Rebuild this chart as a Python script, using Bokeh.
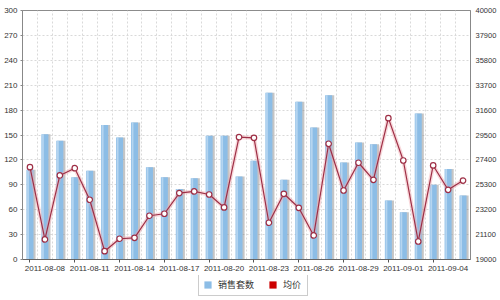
from bokeh.plotting import figure
from bokeh.layouts import column
from bokeh.models import (Range1d, LinearAxis, FixedTicker, Legend, LegendItem,
                          ColumnDataSource)
from bokeh.transform import dodge
from bokeh.embed import file_html
from bokeh.resources import INLINE

dates = ["2011-08-07", "2011-08-08", "2011-08-09", "2011-08-10", "2011-08-11",
         "2011-08-12", "2011-08-13", "2011-08-14", "2011-08-15", "2011-08-16",
         "2011-08-17", "2011-08-18", "2011-08-19", "2011-08-20", "2011-08-21",
         "2011-08-22", "2011-08-23", "2011-08-24", "2011-08-25", "2011-08-26",
         "2011-08-27", "2011-08-28", "2011-08-29", "2011-08-30", "2011-08-31",
         "2011-09-01", "2011-09-02", "2011-09-03", "2011-09-04", "2011-09-05"]
sales = [108, 151, 143, 99, 107, 162, 147, 165, 111, 99,
         85, 98, 149, 149, 100, 119, 201, 96, 190, 159,
         198, 117, 141, 139, 71, 57, 176, 90, 109, 77]
price = [26790, 20690, 26090, 26700, 24040, 19700, 20750, 20830, 22690, 22860,
         24600, 24740, 24480, 23390, 29320, 29260, 22100, 24540, 23360, 21030,
         28760, 24820, 27160, 25720, 30920, 27350, 20520, 26930, 24880, 25660]
left_ticks = [0, 30, 60, 90, 120, 150, 180, 210, 240, 270, 300]
right_ticks = [19000, 21100, 23200, 25300, 27400, 29500, 31600, 33700, 35800, 37900, 40000]
series_names = ["销售套数", "均价"]
series_colors = ["#8cbde6", "#cc0000"]

n = len(dates)
x = list(range(n))
src = ColumnDataSource(dict(x=x, date=dates, sales=sales, price=price))

p = figure(width=500, height=275, output_backend="svg", toolbar_location=None,
           x_range=Range1d(-0.5, n - 0.5),
           y_range=Range1d(left_ticks[0], left_ticks[-1]),
           min_border_left=22, min_border_right=30, min_border_top=10,
           min_border_bottom=16, background_fill_color="white",
           border_fill_color="white")
p.extra_y_ranges = {"price": Range1d(right_ticks[0], right_ticks[-1])}
p.outline_line_color = "#8c8c8c"
p.outline_line_width = 1

# grids
p.xgrid.ticker = FixedTicker(ticks=[i + 0.5 for i in x[:-1]])
p.ygrid.ticker = FixedTicker(ticks=left_ticks)
for g in (p.xgrid, p.ygrid):
    g.grid_line_color = "#d9d9d9"
    g.grid_line_dash = "2 2"
    g.grid_line_width = 1

# x axis
label_idx = x[1::3]
tick_idx = x[0::3]
xa = p.xaxis[0]
xa.ticker = FixedTicker(ticks=label_idx, minor_ticks=tick_idx)
xa.major_label_overrides = {i: dates[i] for i in label_idx}
xa.major_tick_out = 0
xa.major_tick_in = 0
xa.minor_tick_out = 3
xa.minor_tick_in = 0
xa.minor_tick_line_color = "#555555"
xa.axis_line_color = "#666666"
xa.major_label_text_font = "Liberation Sans"
xa.major_label_text_font_size = "8px"
xa.major_label_text_color = "#333333"
xa.major_label_standoff = 3

# left axis
ya = p.yaxis[0]
ya.ticker = FixedTicker(ticks=left_ticks)
ya.major_tick_out = 2
ya.major_tick_in = 0
ya.minor_tick_out = 0
ya.minor_tick_in = 0
ya.axis_line_color = "#888888"
ya.major_tick_line_color = "#888888"
ya.major_label_text_font = "Liberation Sans"
ya.major_label_text_font_size = "8px"
ya.major_label_text_color = "#333333"
ya.major_label_standoff = 3

# right axis
ra = LinearAxis(y_range_name="price", ticker=FixedTicker(ticks=right_ticks))
ra.major_tick_out = 0
ra.major_tick_in = 0
ra.minor_tick_out = 0
ra.minor_tick_in = 0
ra.axis_line_color = "#888888"
ra.major_label_text_font = "Liberation Sans"
ra.major_label_text_font_size = "7.5px"
ra.major_label_text_color = "#333333"
ra.major_label_standoff = 5
p.add_layout(ra, "right")

# bars with shadow
p.vbar(x=dodge("x", 0.14), top="sales", width=0.47, source=src,
       fill_color="#7f7f7f", fill_alpha=0.45, line_color=None)
p.vbar(x="x", top="sales", width=0.47, source=src,
       fill_color=series_colors[0], line_color=None)
p.vbar(x=dodge("x", -0.13), top="sales", width=0.12, source=src,
       fill_color="#b5d5f0", line_color=None)

# price line with glow
p.line(x="x", y="price", y_range_name="price", source=src,
       line_color="#f0a8b0", line_width=4, line_alpha=0.45)
p.line(x="x", y="price", y_range_name="price", source=src,
       line_color="#9e2f46", line_width=1.2)
p.scatter(x="x", y="price", y_range_name="price", source=src, size=5.5,
          marker="circle", fill_color="white", line_color="#9e2f46", line_width=1.2)

# legend strip below the chart
q = figure(width=500, height=25, output_backend="svg", toolbar_location=None,
           x_range=Range1d(0, 1), y_range=Range1d(0, 1),
           min_border=0, x_axis_location=None, y_axis_location=None,
           background_fill_color="white", border_fill_color="white")
q.outline_line_color = None
q.xgrid.visible = False
q.ygrid.visible = False
sw = [q.vbar(x=[-5], top=[0], width=0.5, fill_color=c, line_color=None)
      for c in series_colors]
legend = Legend(items=[LegendItem(label=series_names[i], renderers=[sw[i]])
                       for i in range(len(series_names))],
                orientation="horizontal", location=(176, 4))
legend.label_text_font = "Noto Sans CJK SC"
legend.label_text_font_size = "9px"
legend.label_text_color = "#333333"
legend.glyph_width = 9
legend.glyph_height = 9
legend.label_height = 10
legend.label_standoff = 6
legend.spacing = 14
legend.padding = 4
legend.margin = 0
legend.border_line_color = "#999999"
legend.background_fill_color = "white"
legend.background_fill_alpha = 1
q.add_layout(legend, "center")

open("out.html", "w").write(file_html(column(p, q, spacing=0), INLINE))
